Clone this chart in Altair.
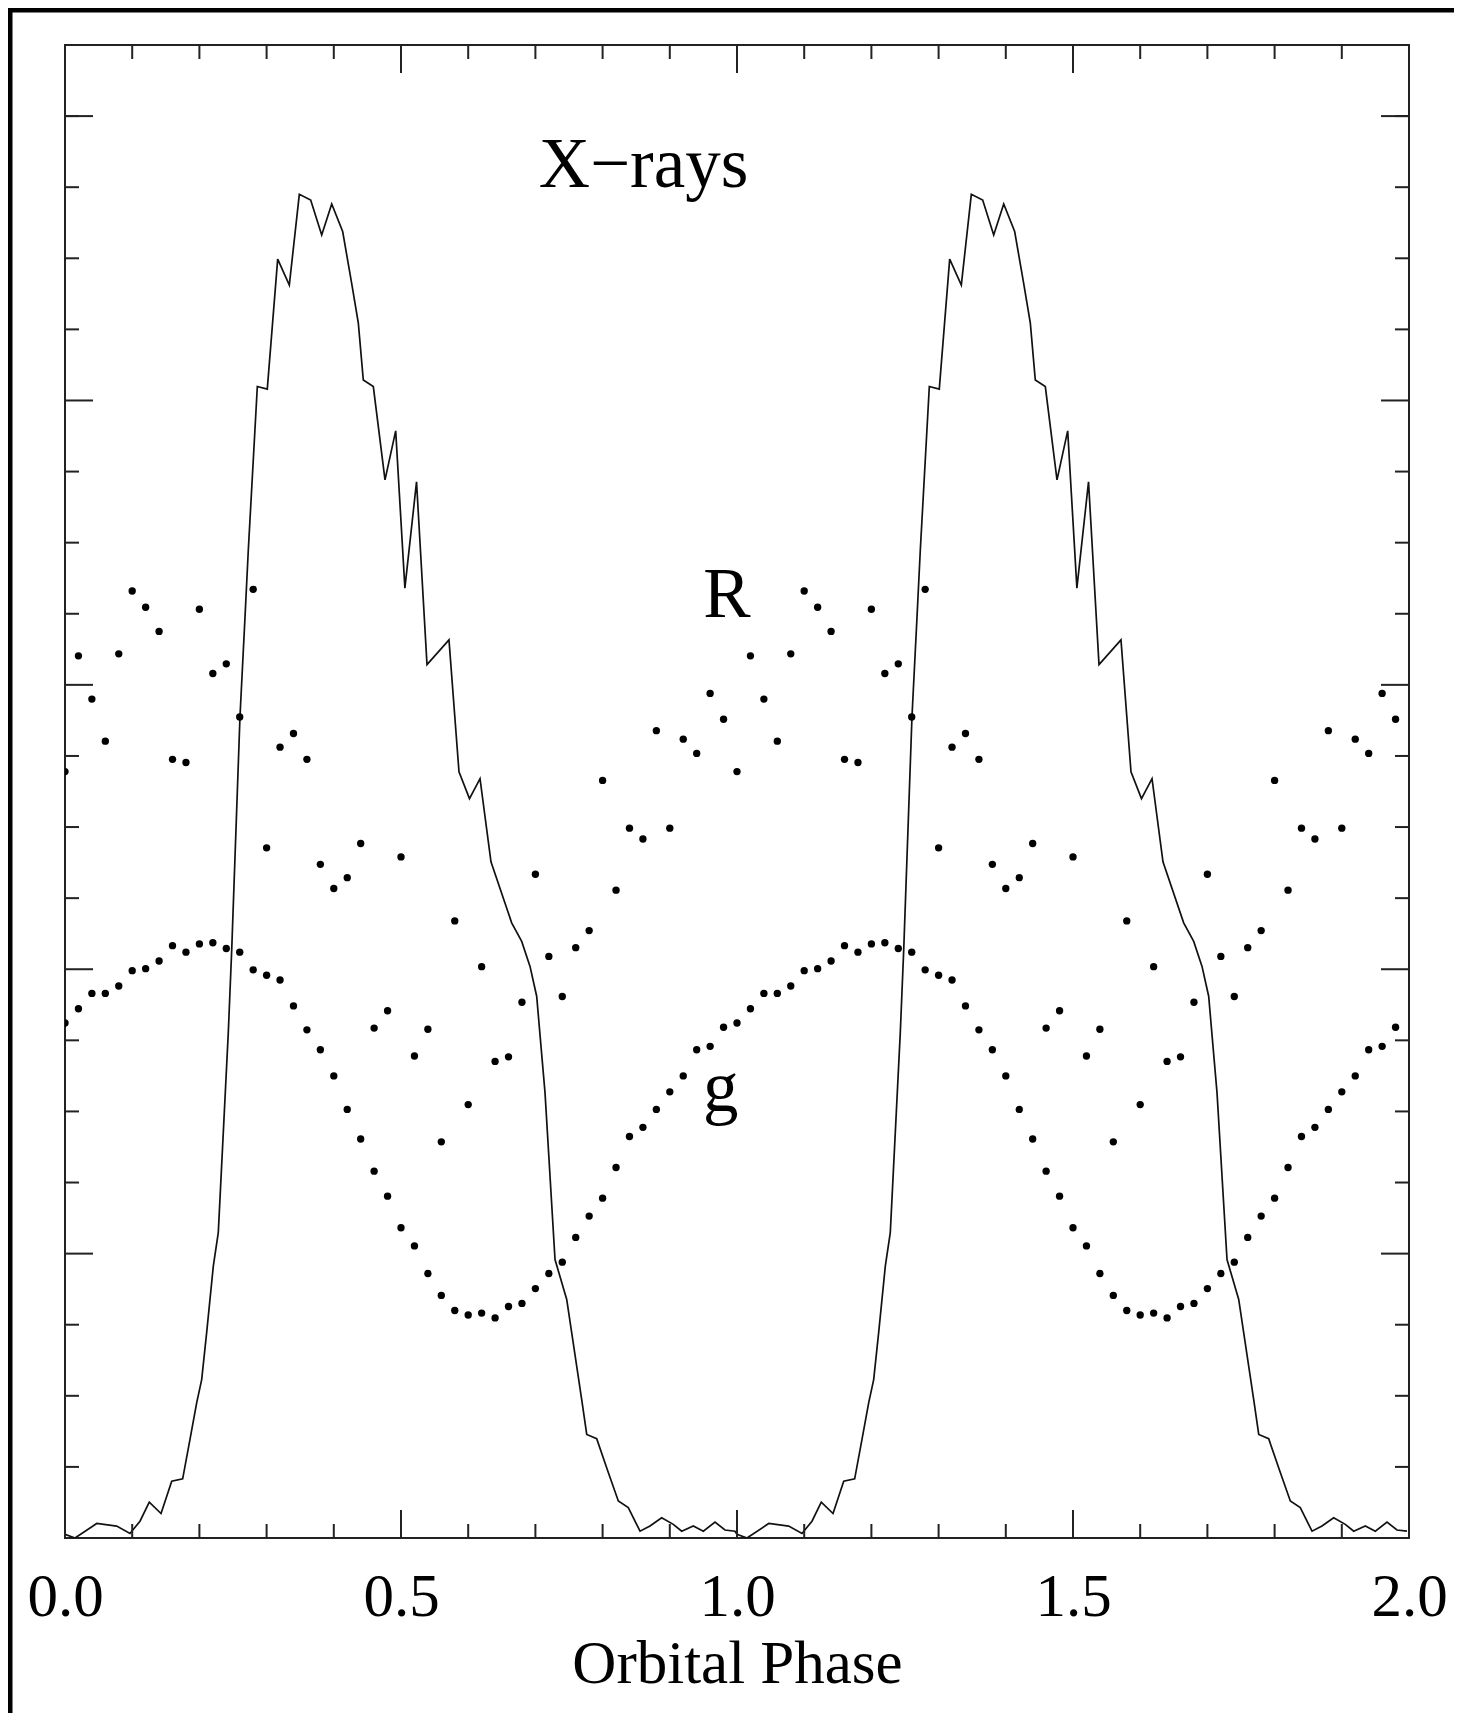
import altair as alt
import pandas as pd

# ---------------- data (one orbital cycle, plotted twice as in the figure) ----------------
opt_phase = [0.00, 0.02, 0.04, 0.06, 0.08, 0.10, 0.12, 0.14, 0.16, 0.18,
             0.20, 0.22, 0.24, 0.26, 0.28, 0.30, 0.32, 0.34, 0.36, 0.38,
             0.40, 0.42, 0.44, 0.46, 0.48, 0.50, 0.52, 0.54, 0.56, 0.58,
             0.60, 0.62, 0.64, 0.66, 0.68, 0.70, 0.72, 0.74, 0.76, 0.78,
             0.80, 0.82, 0.84, 0.86, 0.88, 0.90, 0.92, 0.94, 0.96, 0.98]

g_flux = [1.811, 1.861, 1.915, 1.915, 1.941, 1.995, 2.002, 2.029, 2.083, 2.060,
          2.089, 2.093, 2.073, 2.060, 1.998, 1.979, 1.962, 1.871, 1.787, 1.717,
          1.625, 1.507, 1.403, 1.290, 1.202, 1.091, 1.027, 0.930, 0.853, 0.800,
          0.784, 0.791, 0.774, 0.814, 0.825, 0.877, 0.930, 0.970, 1.057, 1.132,
          1.195, 1.303, 1.412, 1.444, 1.507, 1.569, 1.625, 1.717, 1.729, 1.796]

R_flux = [2.695, 3.102, 2.950, 2.802, 3.109, 3.330, 3.273, 3.188, 2.738, 2.727,
          3.266, 3.040, 3.074, 2.887, 3.336, 2.427, 2.781, 2.829, 2.738, 2.369,
          2.284, 2.322, 2.442, 1.793, 1.854, 2.395, 1.695, 1.789, 1.393, 2.170,
          1.524, 2.009, 1.676, 1.692, 1.884, 2.334, 2.045, 1.904, 2.076, 2.136,
          2.664, 2.278, 2.496, 2.458, 2.839, 2.496, 2.809, 2.759, 2.970, 2.879]

xray_phase = [0.0, 0.0149, 0.0472, 0.0769, 0.0967, 0.1116, 0.1254, 0.1429, 0.1588, 0.1751,
              0.1860, 0.1960, 0.2034, 0.2108, 0.2207, 0.2281, 0.2430, 0.2481, 0.2604, 0.2679,
              0.2728, 0.2862, 0.3010, 0.3165, 0.3338, 0.3487, 0.3656, 0.3820, 0.3969, 0.4132,
              0.4266, 0.4365, 0.4439, 0.4588, 0.4762, 0.4921, 0.5058, 0.5231, 0.5387, 0.5714,
              0.5863, 0.6019, 0.6176, 0.6339, 0.6647, 0.6796, 0.6920, 0.7019, 0.7143, 0.7292,
              0.7466, 0.7689, 0.7764, 0.7912, 0.8085, 0.8234, 0.8382, 0.8557, 0.8705, 0.8879,
              0.9052, 0.9177, 0.9350, 0.9499, 0.9673, 0.9821, 0.9970]

xray_flux = [0.013, 0.0, 0.051, 0.042, 0.016, 0.059, 0.126, 0.086, 0.200, 0.208,
             0.347, 0.476, 0.557, 0.722, 0.956, 1.074, 1.777, 2.069, 2.889, 3.240,
             3.475, 4.049, 4.040, 4.497, 4.406, 4.725, 4.705, 4.582, 4.691, 4.594,
             4.412, 4.272, 4.072, 4.049, 3.721, 3.893, 3.340, 3.714, 3.071, 3.158,
             2.694, 2.600, 2.670, 2.378, 2.163, 2.098, 2.010, 1.905, 1.566, 0.979,
             0.839, 0.487, 0.364, 0.349, 0.230, 0.130, 0.107, 0.024, 0.042, 0.071,
             0.048, 0.024, 0.042, 0.024, 0.056, 0.028, 0.024]

cycles = [0, 1]

labels_text = ["X\u2212rays", "R", "g"]
labels_phase = [0.861, 0.985, 0.976]
labels_flux = [4.749, 3.240, 1.501]

x_tick_labels = [0.0, 0.5, 1.0, 1.5, 2.0]
x_minor_ticks = [0.1, 0.2, 0.3, 0.4, 0.6, 0.7, 0.8, 0.9,
                 1.1, 1.2, 1.3, 1.4, 1.6, 1.7, 1.8, 1.9]
y_major_ticks = [1, 2, 3, 4, 5]
y_minor_ticks = [0.25, 0.5, 0.75, 1.25, 1.5, 1.75, 2.25, 2.5, 2.75,
                 3.25, 3.5, 3.75, 4.25, 4.5, 4.75, 5.0]

# ---------------- tables ----------------
xray_df = pd.DataFrame({
    "phase": [p + c for c in cycles for p in xray_phase],
    "flux": [v for c in cycles for v in xray_flux],
})
opt_df = pd.DataFrame({
    "phase": [p + c for c in cycles for p in opt_phase] * 2,
    "flux": [v for c in cycles for v in R_flux] + [v for c in cycles for v in g_flux],
})
lab_df = pd.DataFrame({"phase": labels_phase, "flux": labels_flux, "text": labels_text})

W, H = 1344, 1493
FONT = "Liberation Serif"
x_scale = alt.Scale(domain=[0, 2], nice=False, zero=False)
y_scale = alt.Scale(domain=[0, 5.25], nice=False, zero=False)

xaxis = alt.Axis(values=x_tick_labels, format=".1f", labelFont=FONT, labelFontSize=61,
                 labelColor="black", labelFlush=False, labelBaseline="alphabetic",
                 labelPadding=77, labelOverlap=False, ticks=False, tickSize=0,
                 domain=False, grid=False, title="Orbital Phase", titleFont=FONT,
                 titleFontSize=61, titleFontWeight="normal", titleColor="black",
                 titleBaseline="alphabetic", titleAlign="center", titleX=W / 2, titleY=144)

X = alt.X("phase:Q", scale=x_scale, axis=xaxis)
Y = alt.Y("flux:Q", scale=y_scale, axis=None)

xray = alt.Chart(xray_df).mark_line(color="#111", strokeWidth=1.7, clip=True).encode(x=X, y=Y)
dots = alt.Chart(opt_df).mark_circle(color="black", size=54, opacity=1, clip=True).encode(x=X, y=Y)
texts = alt.Chart(lab_df).mark_text(font=FONT, fontSize=71, align="center",
                                    baseline="alphabetic", color="black").encode(
    x=X, y=Y, text="text:N")

TC = "#222"
xt_maj = pd.DataFrame({"phase": x_tick_labels})
xt_min = pd.DataFrame({"phase": x_minor_ticks})
yt_maj = pd.DataFrame({"flux": y_major_ticks})
yt_min = pd.DataFrame({"flux": y_minor_ticks})

def xticks(df, length):
    b = alt.Chart(df).mark_rule(color=TC, strokeWidth=2).encode(
        x=X, y=alt.value(H), y2=alt.value(H - length))
    t = alt.Chart(df).mark_rule(color=TC, strokeWidth=2).encode(
        x=X, y=alt.value(0), y2=alt.value(length))
    return [b, t]

def yticks(df, length):
    l = alt.Chart(df).mark_rule(color=TC, strokeWidth=2).encode(
        y=Y, x=alt.value(0), x2=alt.value(length))
    r = alt.Chart(df).mark_rule(color=TC, strokeWidth=2).encode(
        y=Y, x=alt.value(W), x2=alt.value(W - length))
    return [l, r]

tick_layers = xticks(xt_maj, 28) + xticks(xt_min, 14) + yticks(yt_maj, 28) + yticks(yt_min, 14)

# outer frame of the figure (left and top edge)
frame_df = pd.DataFrame({"k": [0]})
left_border = alt.Chart(frame_df).mark_rule(color="black", strokeWidth=5).encode(
    x=alt.value(-55), y=alt.value(-37), y2=alt.value(H + 175))
top_border = alt.Chart(frame_df).mark_rule(color="black", strokeWidth=5).encode(
    y=alt.value(-35), x=alt.value(-57), x2=alt.value(W + 45))

chart = alt.layer(xray, dots, texts, *tick_layers, left_border, top_border).properties(
    width=W, height=H,
    autosize=alt.AutoSizeParams(type="none"),
    padding={"left": 57, "top": 37, "right": 45, "bottom": 175},
    background="white",
).configure_view(stroke="#222", strokeWidth=2)

chart.save("out.html", embed_options={"renderer": "svg", "actions": False})
